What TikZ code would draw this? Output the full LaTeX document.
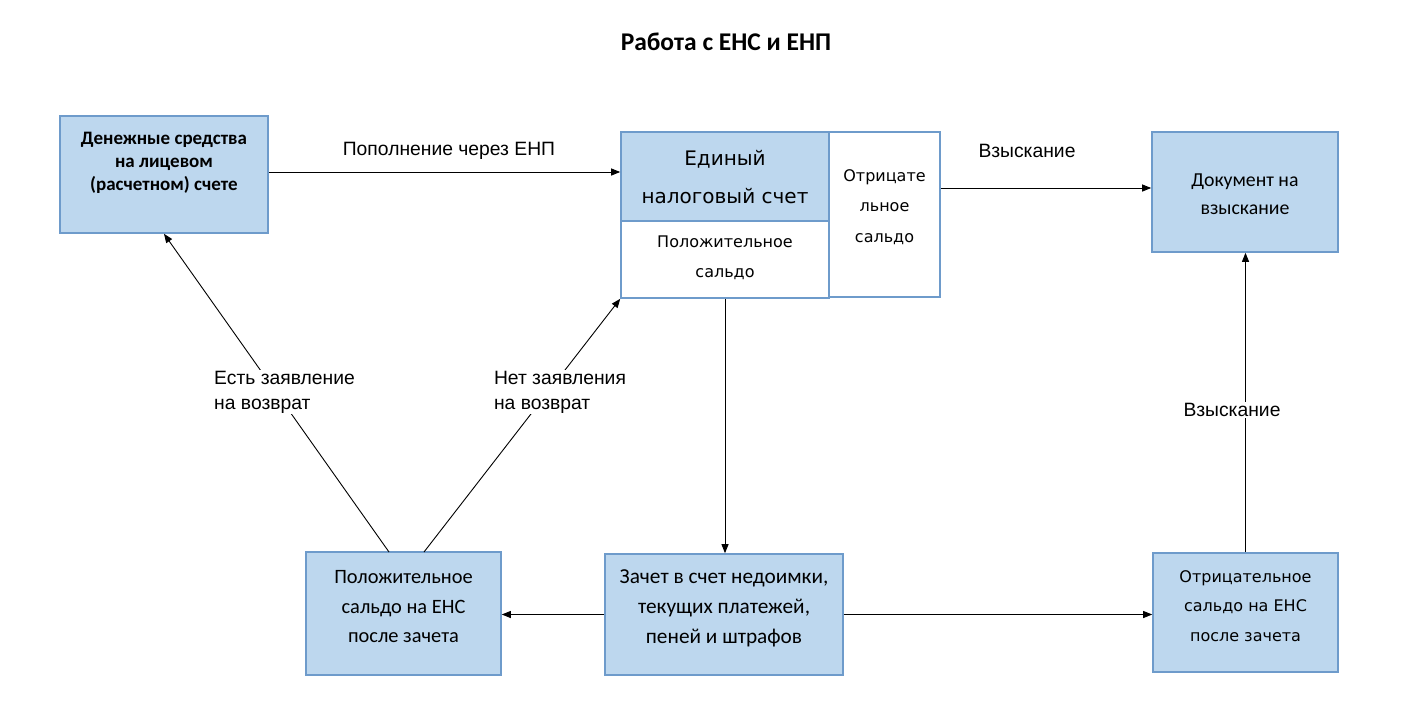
\documentclass[tikz,border=0pt]{standalone}
\usepackage{fontspec}
\setmainfont{Carlito}
\newfontfamily\dv{DejaVu Sans}
\newfontfamily\lib{Liberation Sans}
\usetikzlibrary{arrows.meta}
\definecolor{boxfill}{RGB}{189,215,238}
\definecolor{boxline}{RGB}{110,155,203}
\begin{document}
\begin{tikzpicture}[x=1pt,y=-1pt,
  box/.style={draw=boxline, line width=1.6pt, fill=boxfill, inner sep=0pt},
  wbox/.style={draw=boxline, line width=1.6pt, fill=white, inner sep=0pt},
  txt/.style={align=center, inner sep=0pt},
  arr/.style={-{Triangle[length=9pt,width=7pt]}, line width=0.9pt},
  lbl/.style={font=\lib\fontsize{19.3}{25}\selectfont, align=left, inner sep=1pt},
  clbl/.style={font=\lib\fontsize{19.3}{25}\selectfont, inner sep=1pt}]
\useasboundingbox[fill=white] (0,0) rectangle (1416,702);

\node[font=\bfseries\fontsize{25.5}{30}\selectfont] (title) at (726,42) {Работа с ЕНС и ЕНП};

% boxes
\node[box, minimum width=208pt, minimum height=117pt] (den) at (164,174.5) {};
\node[txt, font=\bfseries\fontsize{19}{23}\selectfont] (dent) at (164,163) {Денежные средства\\на лицевом\\(расчетном) счете};

\node[box, minimum width=208pt, minimum height=89pt] (ens) at (725,176.5) {};
\node[txt, font=\dv\fontsize{20}{38}\selectfont] (enst) at (725,177) {Единый\\налоговый счет};
\node[wbox, minimum width=208pt, minimum height=77pt] (pos) at (725,259.5) {};
\node[txt, font=\dv\fontsize{16}{30}\selectfont] (post) at (725,258) {Положительное\\сальдо};
\node[wbox, minimum width=111pt, minimum height=165pt] (neg) at (884.5,214.5) {};
\node[txt, font=\dv\fontsize{16}{30.5}\selectfont] (negt) at (884.5,207) {Отрицате\\льное\\сальдо};

\node[box, minimum width=186pt, minimum height=120pt] (doc) at (1245,192) {};
\node[txt, font=\fontsize{19.8}{28}\selectfont] (doct) at (1245,194) {Документ на\\взыскание};

\node[box, minimum width=195pt, minimum height=123pt] (pos4) at (403.5,613.5) {};
\node[txt, font=\fontsize{20.4}{29.5}\selectfont] (pos4t) at (403.5,607) {Положительное\\сальдо на ЕНС\\после зачета};

\node[box, minimum width=238pt, minimum height=121pt] (zach) at (724,614.5) {};
\node[txt, font=\fontsize{21.3}{30}\selectfont] (zacht) at (724,608) {Зачет в счет недоимки,\\текущих платежей,\\пеней и штрафов};

\node[box, minimum width=185pt, minimum height=119pt] (neg6) at (1245.5,612.5) {};
\node[txt, font=\dv\fontsize{16}{29.5}\selectfont] (neg6t) at (1245.5,606) {Отрицательное\\сальдо на ЕНС\\после зачета};

% connectors
\draw[arr] (den.east |- 0,172) -- (ens.west |- 0,172);
\node[clbl] (l1) at (449,151) {Пополнение через ЕНП};

\draw[arr] (neg.east |- 0,188) -- (doc.west |- 0,188);
\node[clbl] (l2) at (1027,151) {Взыскание};

\draw[arr] (pos.south) -- (pos.south |- zach.north);
\draw[arr] (zach.west) -- (zach.west -| pos4.east);
\draw[arr] (zach.east) -- (zach.east -| neg6.west);

\draw[arr] (neg6.north) -- (neg6.north |- doc.south);
\node[clbl, fill=white] (l3) at (1232,410) {Взыскание};

\coordinate (s1) at (389,552);
\coordinate (s2) at (424,552);
\draw[arr] (s1) -- (den.south);
\draw[arr] (s2) -- (pos.south west);
\node[lbl, fill=white] (l4) at (284.5,392) {Есть заявление\\на возврат};
\node[lbl, fill=white] (l5) at (560,392) {Нет заявления\\на возврат};
\end{tikzpicture}
\end{document}
